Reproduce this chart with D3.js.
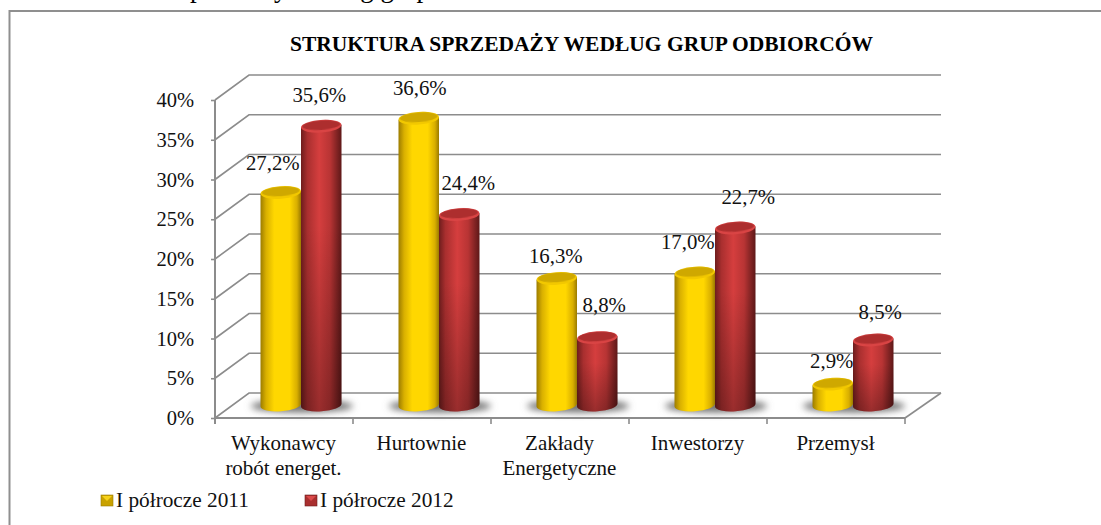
<!DOCTYPE html>
<html lang="pl">
<head>
<meta charset="utf-8">
<title>Struktura sprzedaży</title>
<script src="https://cdn.jsdelivr.net/npm/d3@7"></script>
<style>
html, body { margin: 0; padding: 0; background: #fff; overflow: hidden; }
svg { display: block; font-family: "Liberation Serif", serif; }
</style>
</head>
<body>
<svg id="chart" width="1101" height="525"></svg>
<script>
// data
var titleText = "STRUKTURA SPRZEDAŻY WEDŁUG GRUP ODBIORCÓW";
var cutText = "sprzedaży według grup";
var categories = [["Wykonawcy", "robót energet."], ["Hurtownie"], ["Zakłady", "Energetyczne"], ["Inwestorzy"], ["Przemysł"]];
var seriesNames = ["I półrocze 2011", "I półrocze 2012"];
var values2011 = [27.2, 36.6, 16.3, 17.0, 2.9];
var values2012 = [35.6, 24.4, 8.8, 22.7, 8.5];
var yTicks = [0, 5, 10, 15, 20, 25, 30, 35, 40];

// layout
var front = { left: 215, right: 905, top: 100, bottom: 418 };
var depth = { x: 34, y: -25 };
var barW = 40.5, barRy = 6.3, tilt = -4, floorY = 405;
var gridColor = "#8c8c8c";

// label placement relative to the bar top, same order as the values
var nudge2011 = [-8, 1, -1, -7, -1];
var nudge2012 = [-2, 9, 7, 13, 7];
var lift2011 = [22.5, 23, 15.5, 24, 16];
var lift2012 = [24, 25, 25.5, 24, 21];

var pl = d3.formatLocale({ decimal: ",", thousands: " ", grouping: [3], currency: ["", " zł"] });
var fmtValue = v => pl.format(".1f")(v) + "%";

var svg = d3.select("#chart");
var defs = svg.append("defs");

var yScale = d3.scaleLinear().domain([0, 40]).range([front.bottom, front.top]);
var xScale = d3.scaleBand().domain(d3.range(categories.length)).range([front.left, front.right]);
// the cylinders stand half way into the depth
var barScale = d3.scaleLinear().domain([0, 40]).range([407, 91.5]);

function hGradient(id, stops) {
	var g = defs.append("linearGradient").attr("id", id);
	g.selectAll("stop").data(stops).enter().append("stop")
		.attr("offset", d => d[0]).attr("stop-color", d => d[1]);
}
hGradient("yellowBody", [[0, "#9c7c00"], [0.14, "#d9b000"], [0.34, "#ffd700"], [0.72, "#ffd700"], [0.9, "#d8ae00"], [1, "#9a7a00"]]);
hGradient("redBody", [[0, "#6e1d1d"], [0.16, "#a92f2f"], [0.45, "#d53e3e"], [0.72, "#b83434"], [0.9, "#7d2222"], [1, "#5e1818"]]);

var darken = defs.append("linearGradient").attr("id", "redShade").attr("x2", 0).attr("y2", 1);
darken.append("stop").attr("offset", 0.35).attr("stop-color", "#000").attr("stop-opacity", 0);
darken.append("stop").attr("offset", 1).attr("stop-color", "#000").attr("stop-opacity", 0.28);

defs.append("filter").attr("id", "soft").attr("x", "-30%").attr("y", "-80%").attr("width", "160%").attr("height", "260%")
	.append("feGaussianBlur").attr("stdDeviation", 3.5);
defs.append("filter").attr("id", "lip")
	.append("feGaussianBlur").attr("stdDeviation", 0.7);

//
// frame, only top and left are inside the picture
//
svg.append("path")
	.attr("d", "M9.5,525V11H1101")
	.attr("fill", "none")
	.attr("stroke", "#8f8f8f")
	.attr("stroke-width", 2);

// cut off line of the text above the frame
svg.append("text")
	.attr("x", 179.5).attr("y", -3)
	.style("font-size", "27px")
	.text(cutText);

svg.append("text")
	.attr("x", 581.5).attr("y", 51)
	.attr("text-anchor", "middle")
	.style("font-size", "21.5px").style("font-weight", 700)
	.text(titleText);

//
// walls and floor
//
var walls = svg.append("g").attr("fill", "none").attr("stroke", gridColor).attr("stroke-width", 1.6);
walls.selectAll("path.wall").data(yTicks).enter().append("path")
	.attr("class", "wall")
	.attr("d", d => `M${front.left},${yScale(d)}L${front.left + depth.x},${yScale(d) + depth.y}H${front.right + depth.x + 2}`);
walls.append("path")
	.attr("d", `M${front.right},${front.bottom}L${front.right + depth.x + 2},${front.bottom + depth.y}`);

//
// axes
//
var yAxis = d3.axisLeft(yScale).tickValues(yTicks).tickSize(4).tickPadding(17).tickFormat(d => d + "%");
var gy = svg.append("g").attr("transform", `translate(${front.left},0)`).call(yAxis);
var xAxis = d3.axisBottom(xScale).tickSize(0).tickPadding(0).tickFormat("");
var gx = svg.append("g").attr("transform", `translate(0,${front.bottom})`).call(xAxis);

[gy, gx].forEach(g => {
	g.select(".domain").attr("stroke", gridColor).attr("stroke-width", 2);
	g.selectAll(".tick line").attr("stroke", gridColor).attr("stroke-width", 1.6);
});
gy.selectAll("text").style("font-family", "Liberation Serif").style("font-size", "20.5px").attr("fill", "#111");
gx.select(".domain").attr("d", `M${front.left},0H${front.right}`);
gy.select(".domain").attr("d", `M0,${front.top}V${front.bottom + 6}`);

// x ticks sit between the groups
gx.selectAll("line.sep")
	.data(d3.range(categories.length + 1))
	.enter().append("line")
	.attr("class", "sep")
	.attr("x1", i => front.left + i * xScale.step())
	.attr("x2", i => front.left + i * xScale.step())
	.attr("y1", 0).attr("y2", 6)
	.attr("stroke", gridColor).attr("stroke-width", 1.6);

var catLabels = svg.append("g").selectAll("text").data(categories).enter().append("text")
	.attr("text-anchor", "middle")
	.style("font-size", "21px")
	.attr("fill", "#111")
	.attr("x", (d, i) => xScale(i) + xScale.bandwidth() / 2 - 0.5)
	.attr("y", 450);
catLabels.selectAll("tspan").data(d => d).enter().append("tspan")
	.attr("x", function () { return this.parentNode.getAttribute("x"); })
	.attr("dy", (d, i) => i ? 24.5 : 0)
	.text(d => d);

//
// cylinders
//
function groupCentre(i) { return xScale(i) + xScale.bandwidth() / 2 + depth.x / 2; }

var bars = svg.append("g");

// floor shadows first
bars.selectAll("ellipse.shadow").data(categories).enter().append("ellipse")
	.attr("class", "shadow")
	.attr("cx", (d, i) => groupCentre(i) + 1)
	.attr("cy", floorY + 1)
	.attr("rx", 51).attr("ry", 6.5)
	.attr("fill", "#6f6f6f")
	.attr("filter", "url(#soft)");

function drawCylinders(values, side, body, lipColor, capColor) {
	var g = bars.append("g").selectAll("g").data(values).enter().append("g");
	var r = barW / 2;
	var lean = r * Math.sin(-tilt * Math.PI / 180);
	var cx = (d, i) => groupCentre(i) + side * r;
	var bodyPath = (d, i) => {
		var t = barScale(d);
		return `M${cx(d, i) - r},${t + lean}V${floorY + lean}A${r},${barRy} ${tilt} 0 0 ${cx(d, i) + r},${floorY - lean}V${t - lean}Z`;
	};

	g.append("path").attr("fill", `url(#${body})`).attr("d", bodyPath);
	if (body == "redBody") {
		g.append("path").attr("fill", "url(#redShade)").attr("d", bodyPath);
	}
	g.append("ellipse")
		.attr("cx", cx).attr("cy", d => barScale(d))
		.attr("rx", r).attr("ry", barRy)
		.attr("transform", (d, i) => `rotate(${tilt} ${cx(d, i)} ${barScale(d)})`)
		.attr("fill", lipColor);
	g.append("ellipse")
		.attr("cx", cx).attr("cy", d => barScale(d) - 1)
		.attr("rx", r - 1.5).attr("ry", barRy - 1.6)
		.attr("transform", (d, i) => `rotate(${tilt} ${cx(d, i)} ${barScale(d)})`)
		.attr("fill", capColor)
		.attr("filter", "url(#lip)");
}
drawCylinders(values2011, -1, "yellowBody", "#f2c800", "#cfa800");
drawCylinders(values2012, 1, "redBody", "#d94444", "#ad2f2f");

// value labels go over the bars
function drawValueLabels(values, side, nudge, lift) {
	svg.append("g").selectAll("text").data(values).enter().append("text")
		.attr("text-anchor", "middle")
		.style("font-size", "20.8px")
		.attr("fill", "#111")
		.attr("x", (d, i) => groupCentre(i) + side * barW / 2 + nudge[i])
		.attr("y", (d, i) => barScale(d) - lift[i])
		.text(fmtValue);
}
drawValueLabels(values2011, -1, nudge2011, lift2011);
drawValueLabels(values2012, 1, nudge2012, lift2012);

//
// legend
//
var legendColors = [["#c9a200", "#f7d21a", "#9c7c00"], ["#a92f2f", "#dc4a4a", "#6e1d1d"]];
var legendX = d3.scaleOrdinal().domain(seriesNames).range([101, 305]);
var legend = svg.append("g").selectAll("g").data(seriesNames).enter().append("g")
	.attr("transform", d => `translate(${legendX(d)},495)`);
legend.append("rect")
	.attr("width", 12).attr("height", 11)
	.attr("fill", (d, i) => legendColors[i][0])
	.attr("stroke", (d, i) => legendColors[i][2])
	.attr("stroke-width", 0.6);
legend.append("path")
	.attr("d", "M1,1H11L6,6Z")
	.attr("fill", (d, i) => legendColors[i][1]);
legend.append("text")
	.attr("x", 15).attr("y", 12)
	.style("font-size", "21.3px")
	.attr("fill", "#111")
	.text(d => d);
</script>
</body>
</html>
